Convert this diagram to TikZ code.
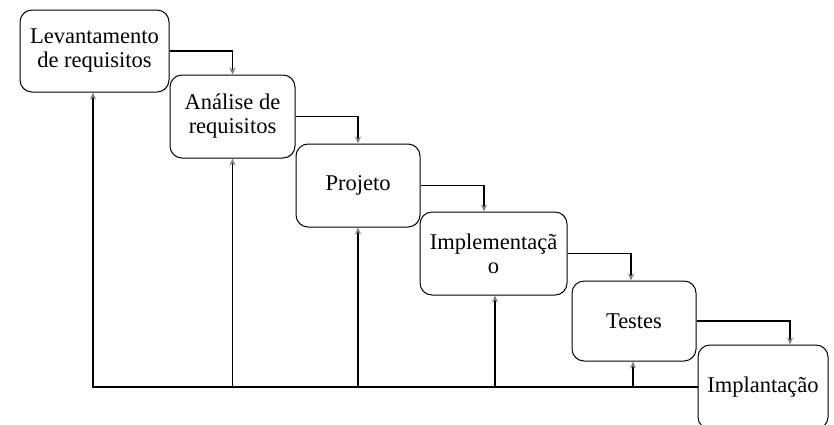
\documentclass[tikz,border=0pt]{standalone}
\usepackage{fontspec}
\setmainfont{Liberation Serif}
\usetikzlibrary{arrows.meta,calc}
\begin{document}
\begin{tikzpicture}[x=1pt,y=-1pt,
  stage/.style={draw=black,line width=1pt,rounded corners=12pt,align=center,
    inner sep=0pt,font=\fontsize{22.5}{24}\selectfont},
  flow/.style={draw=black,line width=1.5pt,-{Stealth[gray,length=7pt,width=6pt]}}]
\useasboundingbox (0,0) rectangle (834,424);
\node[stage,minimum width=149pt,minimum height=82pt] (b1) at (94.5,51) {Levantamento\\de requisitos};
\node[stage,minimum width=125pt,minimum height=83pt] (b2) at (232.5,116.5) {Análise de\\requisitos};
\node[stage,minimum width=124pt,minimum height=83pt] (b3) at (358,185.5) {Projeto};
\node[stage,minimum width=147pt,minimum height=83pt] (b4) at (493.5,253.5) {Implementaçã\\o};
\node[stage,minimum width=124pt,minimum height=80pt] (b5) at (634,321) {Testes};
\node[stage,minimum width=130pt,minimum height=84pt] (b6) at (763,387) {Implantação};
% forward flow
\draw[flow] (b1.east) -| (b2.north);
\draw[flow] (b2.east) -| (b3.north);
\draw[flow] (b3.east) -| ([xshift=-9.5pt]b4.north);
\draw[flow] (b4.east) -| ([xshift=-3pt]b5.north);
\draw[flow] (b5.east) -| ([xshift=27pt]b6.north);
% feedback
\draw[flow] (b6.west) -| ([xshift=-1.5pt]b1.south);
\coordinate (j2) at (b2.south |- b6.west);
\coordinate (j3) at (b3.south |- b6.west);
\coordinate (j4) at ([xshift=1.5pt]b4.south |- b6.west);
\coordinate (j5) at ([xshift=-1pt]b5.south |- b6.west);
\draw[flow] (j2) -- (b2.south);
\draw[flow] (j3) -- (b3.south);
\draw[flow] (j4) -- ([xshift=1.5pt]b4.south);
\draw[flow] (j5) -- ([xshift=-1pt]b5.south);
\end{tikzpicture}
\end{document}
